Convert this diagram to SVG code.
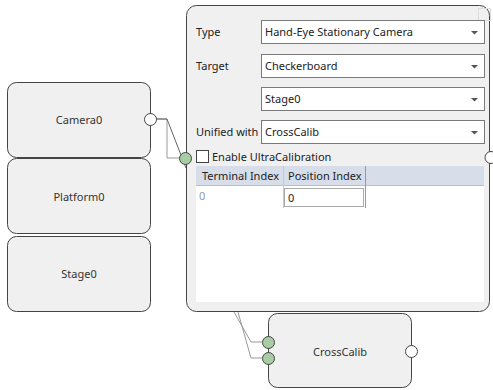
<svg xmlns="http://www.w3.org/2000/svg" width="493" height="390" viewBox="0 0 493 390">
<style>
.node{fill:#f0f0f0;stroke:#444;stroke-width:1}
.lbl{font-family:"Noto Sans","Open Sans",sans-serif;font-size:11px;fill:#222}
.nlbl{font-family:"Noto Sans","Open Sans",sans-serif;font-size:11px;fill:#333;text-anchor:middle}
.in{fill:#a8cca3;stroke:#444;stroke-width:1}
.out{fill:#fff;stroke:#444;stroke-width:1}
.box{fill:#fff;stroke:#7a7a7a;stroke-width:1}
.arr{fill:#555}
.wire{fill:none;stroke:#999;stroke-width:1}
.wire2{fill:none;stroke:#666;stroke-width:1}
</style>
<rect width="493" height="390" fill="#fff"/>
<g id="connectors">
<polyline class="wire" points="156,119 167,119 167,158 180,158"/>
<polyline class="wire2" points="156,119 167,119 186,168"/>
<polyline class="wire" points="234,312 251,342 262,342"/>
<polyline class="wire" points="238,312 251,358 262,358"/>
</g>
<g id="Camera0">
<rect class="node" x="7.5" y="82.5" width="143" height="75" rx="9"/>
<text class="nlbl" x="79" y="124">Camera0</text>
<circle class="out" cx="150.5" cy="119.5" r="6"/>
</g>
<g id="Platform0">
<rect class="node" x="7.5" y="158.5" width="143" height="75" rx="9"/>
<text class="nlbl" x="79" y="201">Platform0</text>
</g>
<g id="Stage0">
<rect class="node" x="7.5" y="236.5" width="143" height="75" rx="9"/>
<text class="nlbl" x="79" y="278">Stage0</text>
</g>
<g id="Panel">
<rect class="node" x="186.5" y="5.5" width="303" height="306" rx="10"/>
<rect x="478.5" y="8.5" width="12" height="12" fill="none" stroke="#ddd"/>
<text class="lbl" x="196" y="36">Type</text>
<rect class="box" x="261.5" y="20.5" width="223" height="23"/>
<text class="lbl" x="265" y="36">Hand-Eye Stationary Camera</text>
<path class="arr" d="M471,31 h7 l-3.5,3.5z"/>
<text class="lbl" x="196" y="70">Target</text>
<rect class="box" x="261.5" y="54.5" width="223" height="23"/>
<text class="lbl" x="265" y="70">Checkerboard</text>
<path class="arr" d="M471,65 h7 l-3.5,3.5z"/>
<rect class="box" x="261.5" y="87.5" width="223" height="23"/>
<text class="lbl" x="265" y="103">Stage0</text>
<path class="arr" d="M471,98 h7 l-3.5,3.5z"/>
<text class="lbl" x="196" y="136">Unified with</text>
<rect class="box" x="261.5" y="120.5" width="223" height="23"/>
<text class="lbl" x="265" y="136">CrossCalib</text>
<path class="arr" d="M471,131 h7 l-3.5,3.5z"/>
<rect x="196.5" y="150.5" width="12" height="12" fill="#fff" stroke="#444"/>
<text class="lbl" x="212" y="161">Enable UltraCalibration</text>
<rect x="196" y="166" width="288" height="136" fill="#fff"/>
<rect x="196" y="166" width="288" height="19" fill="#d8dee9"/>
<line x1="196" y1="185.5" x2="484" y2="185.5" stroke="#b8c0cc"/>
<line x1="283.5" y1="166" x2="283.5" y2="208" stroke="#c8c8c8"/>
<line x1="365.5" y1="166" x2="365.5" y2="208" stroke="#999"/>
<text class="lbl" x="202" y="180">Terminal Index</text>
<text class="lbl" x="288" y="180">Position Index</text>
<text class="lbl" x="199" y="200" style="fill:#8a9ab0">0</text>
<rect x="284.5" y="188.5" width="79" height="18" fill="#fff" stroke="#aaa"/>
<text class="lbl" x="288" y="202">0</text>
<circle class="in" cx="185.5" cy="158.5" r="6"/>
<circle class="out" cx="491" cy="157.5" r="6"/>
</g>
<g id="CrossCalib">
<rect class="node" x="268.5" y="313.5" width="143" height="74" rx="9"/>
<text class="nlbl" x="340" y="356">CrossCalib</text>
<circle class="in" cx="268.5" cy="342.5" r="6"/>
<circle class="in" cx="268.5" cy="358.5" r="6"/>
<circle class="out" cx="411.5" cy="351.5" r="6"/>
</g>
</svg>
